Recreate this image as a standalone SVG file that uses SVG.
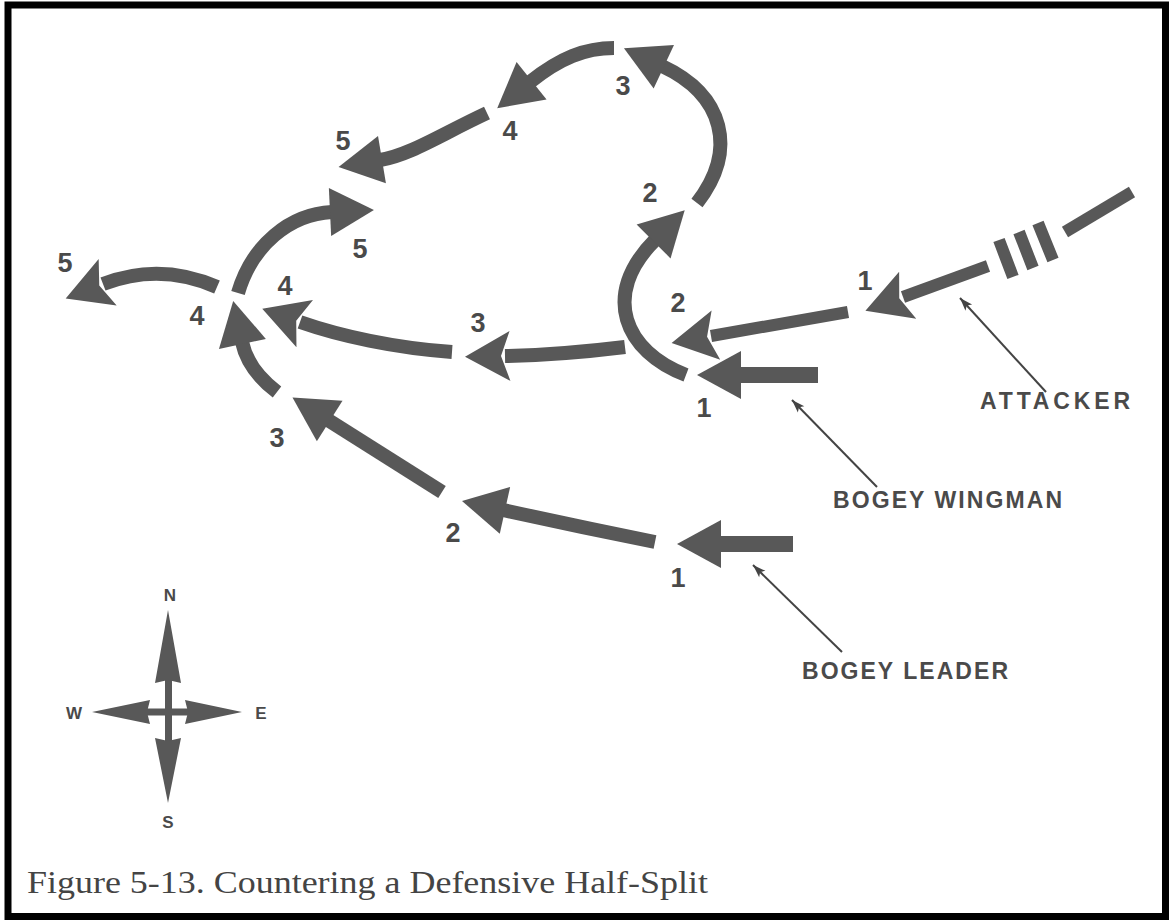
<svg xmlns="http://www.w3.org/2000/svg" width="1170" height="921" viewBox="0 0 1170 921">
<style>
.trk{fill:none;stroke:#585858;stroke-width:14;stroke-linecap:butt}
.thick{stroke-width:16}
.thin{stroke-width:12}
.num{font-family:"Liberation Sans",Arial,sans-serif;font-weight:bold;font-size:27px;fill:#4a4a4a;text-anchor:middle}
.lbl{font-family:"Liberation Sans",Arial,sans-serif;font-weight:bold;font-size:23px;fill:#4a4a4a}
.cmp{font-family:"Liberation Sans",Arial,sans-serif;font-weight:bold;font-size:17px;fill:#4a4a4a;text-anchor:middle}
.ptr{fill:none;stroke:#444;stroke-width:2}
.cap{font-family:"Liberation Serif","Times New Roman",serif;font-size:31px;fill:#444}
</style>
<defs>
<marker id="hd" markerUnits="userSpaceOnUse" viewBox="-4 -26 50 52" markerWidth="50" markerHeight="52" refX="0" refY="0" orient="auto">
<path d="M-2,-24 L42,0 L-2,24 Z" fill="#585858"/>
</marker>
<marker id="hb" markerUnits="userSpaceOnUse" viewBox="-8 -27 52 54" markerWidth="52" markerHeight="54" refX="0" refY="0" orient="auto">
<path d="M-5,-25 L40,0 L-5,25 L4,0 Z" fill="#585858"/>
</marker>
<marker id="pa" markerUnits="userSpaceOnUse" viewBox="-14 -6 16 12" markerWidth="16" markerHeight="12" refX="0" refY="0" orient="auto">
<path d="M-13,-4.5 L0,0 L-13,4.5 L-10,0 Z" fill="#444"/>
</marker>
</defs>
<rect x="0" y="0" width="1170" height="921" fill="#fff"/>
<rect x="8" y="5" width="1157.5" height="911.5" fill="none" stroke="#000" stroke-width="7"/>

<g id="leader-track">
<path class="trk thick" d="M793,544 L719,544" marker-end="url(#hd)"/>
<path class="trk" d="M655,542 Q580,527 503,510" marker-end="url(#hd)"/>
<path class="trk" d="M442,492 L328,420" marker-end="url(#hd)"/>
<path class="trk" d="M277,392 Q248,370 242,342" marker-end="url(#hd)"/>
<path class="trk" d="M238,293 C252,245 290,214 332,212" marker-end="url(#hd)"/>
</g>

<g id="wingman-track">
<path class="trk thick" d="M818,375 L739,375" marker-end="url(#hd)"/>
<path class="trk" d="M686,375 C625,352 600,295 655,240" marker-end="url(#hd)"/>
<path class="trk" d="M697,203 C738,150 724,95 662,66" marker-end="url(#hd)"/>
<path class="trk" d="M614,48 C585,48 560,58 530,82" marker-end="url(#hd)"/>
<path class="trk" d="M487,113 C440,135 410,155 380,160" marker-end="url(#hd)"/>
</g>

<g id="attacker-track">
<path class="trk thin" d="M1132,192 L1065,232"/>
<path class="trk thin" d="M999,240 L1013,277 M1019,232 L1033,268 M1038,223 L1053,260"/>
<path class="trk thin" d="M988,266 L903,297" marker-end="url(#hb)"/>
<path class="trk thin" d="M848,312 L711,336" marker-end="url(#hb)"/>
<path class="trk" d="M625,347 Q560,355 505,356" marker-end="url(#hb)"/>
<path class="trk" d="M452,352 C395,348 340,336 300,322" marker-end="url(#hb)"/>
<path class="trk" d="M217,287 Q160,262 103,284" marker-end="url(#hb)"/>
</g>

<g id="numbers">
<text class="num" x="678" y="587">1</text>
<text class="num" x="453" y="542">2</text>
<text class="num" x="277" y="447">3</text>
<text class="num" x="197" y="325">4</text>
<text class="num" x="360" y="258">5</text>
<text class="num" x="704" y="417">1</text>
<text class="num" x="650" y="202">2</text>
<text class="num" x="623" y="95">3</text>
<text class="num" x="510" y="140">4</text>
<text class="num" x="343" y="150">5</text>
<text class="num" x="865" y="290">1</text>
<text class="num" x="678" y="312">2</text>
<text class="num" x="478" y="332">3</text>
<text class="num" x="285" y="295">4</text>
<text class="num" x="65" y="272">5</text>
</g>

<g id="connectors">
<path class="ptr" d="M1046,392 L960,298" marker-end="url(#pa)"/>
<path class="ptr" d="M877,487 L792,400" marker-end="url(#pa)"/>
<path class="ptr" d="M842,652 L753,565" marker-end="url(#pa)"/>
</g>

<g id="attacker-label"><text class="lbl" x="980" y="409" textLength="150" lengthAdjust="spacing">ATTACKER</text></g>
<g id="wingman-label"><text class="lbl" x="833" y="508" textLength="229" lengthAdjust="spacing">BOGEY WINGMAN</text></g>
<g id="leader-label"><text class="lbl" x="802" y="679" textLength="206" lengthAdjust="spacing">BOGEY LEADER</text></g>

<g id="compass" fill="#585858">
<rect x="165" y="680" width="7" height="62"/>
<rect x="147" y="708.5" width="42" height="7"/>
<path d="M168,610 L181,683 L168,680 L155,683 Z"/>
<path d="M168,803 L181,738 L168,741 L155,738 Z"/>
<path d="M92,712 L150,700 L147,712 L150,724 Z"/>
<path d="M242,712 L185,700 L188,712 L185,724 Z"/>
<text class="cmp" x="170" y="601">N</text>
<text class="cmp" x="74" y="719">W</text>
<text class="cmp" x="261" y="719">E</text>
<text class="cmp" x="168" y="828">S</text>
</g>

<text class="cap" x="27" y="893" textLength="681" lengthAdjust="spacingAndGlyphs">Figure 5-13. Countering a Defensive Half-Split</text>
</svg>
